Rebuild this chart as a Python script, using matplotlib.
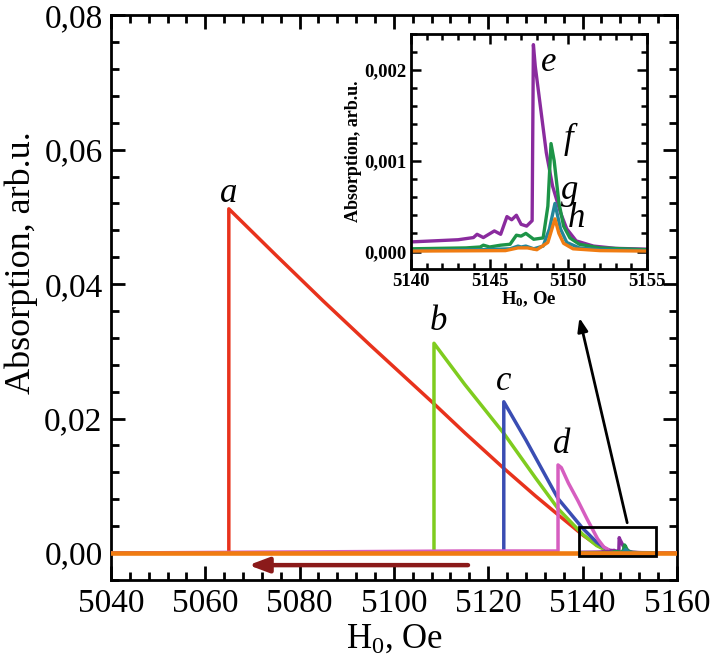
import numpy as np
import matplotlib
matplotlib.use("Agg")
import matplotlib.pyplot as plt
from matplotlib.ticker import MultipleLocator, FuncFormatter

plt.rcParams['font.family'] = ['Liberation Serif', 'DejaVu Serif']
plt.rcParams['mathtext.fontset'] = 'custom'
plt.rcParams['mathtext.rm'] = 'Liberation Serif'
plt.rcParams['mathtext.it'] = 'Liberation Serif:italic'
plt.rcParams['mathtext.bf'] = 'Liberation Serif:bold'

# ---------------- main panel data ----------------
a_H = [5040, 5065.0, 5065.0, 5075, 5085, 5095, 5108.5, 5115, 5123.3, 5130, 5134.8, 5140, 5143, 5145, 5146.5, 5148, 5160]
a_A = [0.0, 0.0, 0.0512, 0.0443, 0.0375, 0.0309, 0.0222, 0.0179, 0.0126, 0.0085, 0.0057, 0.0027, 0.0012, 0.0005, 0.0002, 0.0, 0.0]

b_H = [5040, 5108.5, 5108.5, 5115, 5123.3, 5130, 5134.8, 5140, 5143, 5145, 5146.5, 5148, 5160]
b_A = [0.0, 0.0, 0.0312, 0.0251, 0.0178, 0.0112, 0.0066, 0.0028, 0.0011, 0.0004, 0.0001, 0.0, 0.0]

c_H = [5040, 5123.3, 5123.3, 5128, 5134.8, 5140, 5143, 5145, 5146.5, 5148, 5160]
c_A = [0.0, 0.0, 0.0225, 0.0168, 0.0081, 0.0037, 0.0016, 0.0006, 0.0002, 0.0, 0.0]

d_H = [5040, 5115, 5134.8, 5134.8, 5135.5, 5137, 5139, 5141, 5143.2, 5144.5, 5146, 5147.5, 5160]
d_A = [0.0, 0.0003, 0.0003, 0.0131, 0.0127, 0.0104, 0.0078, 0.0050, 0.0021, 0.0009, 0.0003, 0.0001, 0.0]

# ---------------- inset data (also drawn in main panel) ----------------
e_H = [5140, 5143.0, 5143.97, 5144.2, 5144.6, 5145.3, 5145.7, 5146.1, 5146.4, 5146.7, 5147.0, 5147.35, 5147.7,
       5147.78, 5147.9, 5148.6, 5149.0, 5149.5, 5149.9, 5150.5, 5151.6, 5153, 5155]
e_A = [0.000106, 0.00013, 0.000154, 0.00019, 0.000154, 0.000227, 0.00019, 0.000385, 0.00035, 0.0004, 0.0003, 0.00028, 0.00034,
       0.00228, 0.00204, 0.00109, 0.00072, 0.00043, 0.00025, 0.000117, 0.00006, 0.000035, 0.000026]

f_H = [5140, 5143.5, 5144.4, 5144.6, 5145.0, 5145.7, 5146.3, 5146.7, 5147.0, 5147.3, 5147.8, 5148.4, 5148.7,
       5148.9, 5149.1, 5149.4, 5149.7, 5150.1, 5150.7, 5152.0, 5155]
f_A = [0.00003, 0.00004, 0.00005, 0.00007, 0.00005, 0.00007, 0.00008, 0.00018, 0.00017, 0.0002, 0.000135, 0.00015, 0.0005,
       0.00119, 0.001, 0.00054, 0.00028, 0.00015, 0.00008, 0.00004, 0.00002]

g_H = [5140, 5144.5, 5146.3, 5146.8, 5147.0, 5147.3, 5147.8, 5148.4, 5148.8, 5149.15, 5149.5, 5149.9, 5150.7, 5152, 5155]
g_A = [0.00001, 0.00002, 0.00003, 0.00006, 0.00005, 0.00006, 0.00003, 0.00006, 0.00025, 0.00053, 0.00025, 0.0001, 0.00004, 0.00002, 0.00001]

h_H = [5140, 5146.0, 5146.8, 5147.4, 5148.0, 5148.7, 5149.15, 5149.4, 5149.7, 5150.3, 5152, 5155]
h_A = [0.000005, 0.00001, 0.00004, 0.00004, 0.00002, 0.0001, 0.00036, 0.0002, 0.00009, 0.00003, 0.00001, 0.000005]

orange_H = [5040, 5160]
orange_A = [0.0, 0.0]

col_a = '#e8321c'
col_b = '#7fcc1f'
col_c = '#3a4db3'
col_d = '#d65ec0'
col_e = '#8a2b9e'
col_f = '#1d9447'
col_g = '#23869a'
col_h = '#f07c12'
col_arrow = '#8b1a1a'

fig = plt.figure(figsize=(7.11, 6.62), dpi=100)
ax = fig.add_axes([0.156, 0.124, 0.796, 0.853])

lw = 2.5
ax.plot(a_H, a_A, color=col_a, lw=lw, zorder=3)
ax.plot(b_H, b_A, color=col_b, lw=lw, zorder=3)
ax.plot(c_H, c_A, color=col_c, lw=lw, zorder=3)
ax.plot(d_H, d_A, color=col_d, lw=lw, zorder=3)
ax.plot(e_H, e_A, color=col_e, lw=lw, zorder=3)
ax.plot(f_H, f_A, color=col_f, lw=lw, zorder=3)
ax.plot(g_H, g_A, color=col_g, lw=lw, zorder=3)
ax.plot(orange_H, orange_A, color=col_h, lw=3.3, zorder=4)

ax.set_xlim(5040, 5160)
ax.set_ylim(-0.004, 0.08)
ax.xaxis.set_major_locator(MultipleLocator(20))
ax.xaxis.set_minor_locator(MultipleLocator(4))
ax.yaxis.set_major_locator(MultipleLocator(0.02))
ax.yaxis.set_minor_locator(MultipleLocator(0.004))
ax.yaxis.set_major_formatter(FuncFormatter(lambda v, p: ('%.2f' % v).replace('.', ',')))
ax.tick_params(which='both', direction='in', top=True, right=True, width=2)
ax.tick_params(which='major', length=10, labelsize=24, pad=6)
ax.tick_params(which='minor', length=6)
for s in ax.spines.values():
    s.set_linewidth(2)

fig.text(0.03, 0.603, 'Absorption, arb.u.', rotation=90, fontsize=26, ha='center', va='center')
fig.text(0.555, 0.035, 'H$_0$, Oe', fontsize=25, ha='center', va='center')

# curve labels
lab = dict(fontsize=25, style='italic', ha='center', va='center')
ax.text(5065.0, 0.0535, 'a', **lab)
ax.text(5109.4, 0.0345, 'b', **lab)
ax.text(5123.3, 0.0255, 'c', **lab)
ax.text(5135.5, 0.0162, 'd', **lab)

# scan direction arrow
ax.annotate('', xy=(5068.6, -0.0018), xytext=(5116.3, -0.0018),
            arrowprops=dict(arrowstyle='-|>,head_length=1.2,head_width=0.45', color=col_arrow, lw=3.2))

# zoom rectangle
ax.add_patch(plt.Rectangle((5139.2, -0.0004), 16.3, 0.0043, fill=False, ec='black', lw=2, zorder=5))
ax.annotate('', xy=(5139.2, 0.0354), xytext=(5149.6, 0.0041),
            arrowprops=dict(arrowstyle='-|>,head_length=0.8,head_width=0.3', color='black', lw=2))

# ---------------- inset ----------------
ins = fig.add_axes([0.578, 0.594, 0.332, 0.355])
ilw = 2.4
ins.plot(e_H, e_A, color=col_e, lw=ilw)
ins.plot(f_H, f_A, color=col_f, lw=ilw)
ins.plot(g_H, g_A, color=col_g, lw=ilw)
ins.plot(h_H, h_A, color=col_h, lw=ilw)
ins.set_xlim(5140, 5155)
ins.set_ylim(-0.00019, 0.0024)
ins.xaxis.set_major_locator(MultipleLocator(5))
ins.xaxis.set_minor_locator(MultipleLocator(1))
ins.yaxis.set_major_locator(MultipleLocator(0.001))
ins.yaxis.set_minor_locator(MultipleLocator(0.0002))
ins.yaxis.set_major_formatter(FuncFormatter(lambda v, p: ('%.3f' % v).replace('.', ',')))
ins.tick_params(which='both', direction='in', top=True, right=True, width=1.8)
ins.tick_params(which='major', length=7, labelsize=13.5, pad=3)
ins.tick_params(which='minor', length=4)
for t in ins.get_xticklabels() + ins.get_yticklabels():
    t.set_fontweight('bold')
for s in ins.spines.values():
    s.set_linewidth(2)
ins.set_xlabel('H$_\\mathbf{0}$, Oe', fontsize=13.5, fontweight='bold', labelpad=0)
ins.set_ylabel('Absorption, arb.u.', fontsize=13, fontweight='bold', labelpad=2)
ilab = dict(fontsize=25, style='italic', ha='center', va='center')
ins.text(5148.73, 0.00208, 'e', **ilab)
ins.text(5150.0, 0.00123, 'f', **ilab)
ins.text(5150.1, 0.00067, 'g', **ilab)
ins.text(5150.5, 0.00036, 'h', **ilab)

fig.savefig('out.png', dpi=100)
